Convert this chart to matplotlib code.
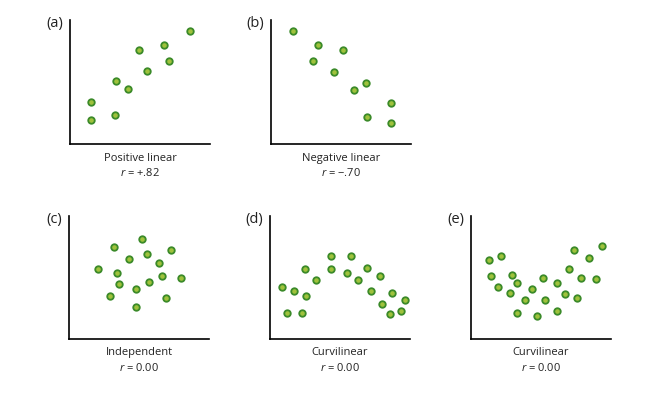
import matplotlib
matplotlib.use('Agg')
import matplotlib.pyplot as plt

plt.rcParams['font.family'] = ['Open Sans', 'DejaVu Sans']
plt.rcParams['mathtext.fontset'] = 'custom'
plt.rcParams['mathtext.rm'] = 'Open Sans'
plt.rcParams['mathtext.it'] = 'Open Sans:italic'

# Panel data (arbitrary units, axis origin at 0,0)
a_x = [21, 21, 45, 46, 58, 69, 77, 94, 99, 120]
a_y = [42, 24, 29, 63, 55, 94, 73, 99, 83, 113]

b_x = [22, 47, 72, 42, 63, 95, 83, 120, 96, 120]
b_y = [113, 99, 94, 83, 72, 61, 54, 41, 27, 21]

c_x = [73, 45, 102, 78, 60, 90, 29, 48, 93, 112, 80, 50, 67, 41, 97, 67]
c_y = [101, 93, 90, 86, 81, 77, 71, 67, 64, 61, 57, 55, 50, 43, 41, 32]

d_x = [61, 81, 35, 61, 97, 77, 110, 46, 88, 12, 24, 101, 36, 122, 135, 112, 17, 32, 131, 120]
d_y = [84, 84, 71, 71, 72, 67, 64, 59, 59, 52, 48, 48, 43, 46, 39, 35, 26, 26, 28, 25]

e_x = [131, 103, 30, 118, 18, 98, 20, 41, 72, 110, 125, 46, 86, 27, 61, 39, 94, 106, 54, 74, 46, 86, 66]
e_y = [94, 90, 84, 82, 80, 71, 64, 65, 62, 62, 60, 56, 56, 52, 50, 46, 45, 41, 39, 39, 26, 28, 23]

letters = ['(a)', '(b)', '(c)', '(d)', '(e)']
names = ['Positive linear', 'Negative linear', 'Independent', 'Curvilinear', 'Curvilinear']
r_vals = ['+.82', '\u2212.70', '0.00', '0.00', '0.00']
xs = [a_x, b_x, c_x, d_x, e_x]
ys = [a_y, b_y, c_y, d_y, e_y]

# axes placement in pixels: left, top of axis, bottom (x-axis)
W, H = 668, 398
boxes = [(70, 20, 144), (271, 20, 144), (69, 216, 339), (270, 216, 339), (471, 216, 339)]

fig = plt.figure(figsize=(W / 100, H / 100), dpi=100)

for i in range(5):
    left, top, bot = boxes[i]
    ax = fig.add_axes([left / W, 1 - bot / H, 140 / W, (bot - top) / H])
    ax.set_xlim(0, 140)
    ax.set_ylim(0, 124)
    for s in ['top', 'right']:
        ax.spines[s].set_visible(False)
    for s in ['left', 'bottom']:
        ax.spines[s].set_linewidth(1.2)
    ax.set_xticks([])
    ax.set_yticks([])
    ax.patch.set_alpha(0)

    # two layers give the dark rim / light centre look of the dots
    ax.scatter(xs[i], ys[i], s=36, color='#3b8a29', zorder=3, linewidths=0)
    ax.scatter(xs[i], ys[i], s=11, color='#9fc23c', zorder=4, linewidths=0)

    ax.text(-0.05, 1.03, letters[i], transform=ax.transAxes, ha='right', va='top',
            fontsize=10.5, color='#222222')
    ax.text(0.5, -0.113, names[i], transform=ax.transAxes, ha='center', va='center',
            fontsize=8, color='#222222')
    ax.text(0.5, -0.234, r'$\it{r}$ = ' + r_vals[i], transform=ax.transAxes,
            ha='center', va='center', fontsize=8, color='#222222')

fig.savefig('out.png', dpi=100)
